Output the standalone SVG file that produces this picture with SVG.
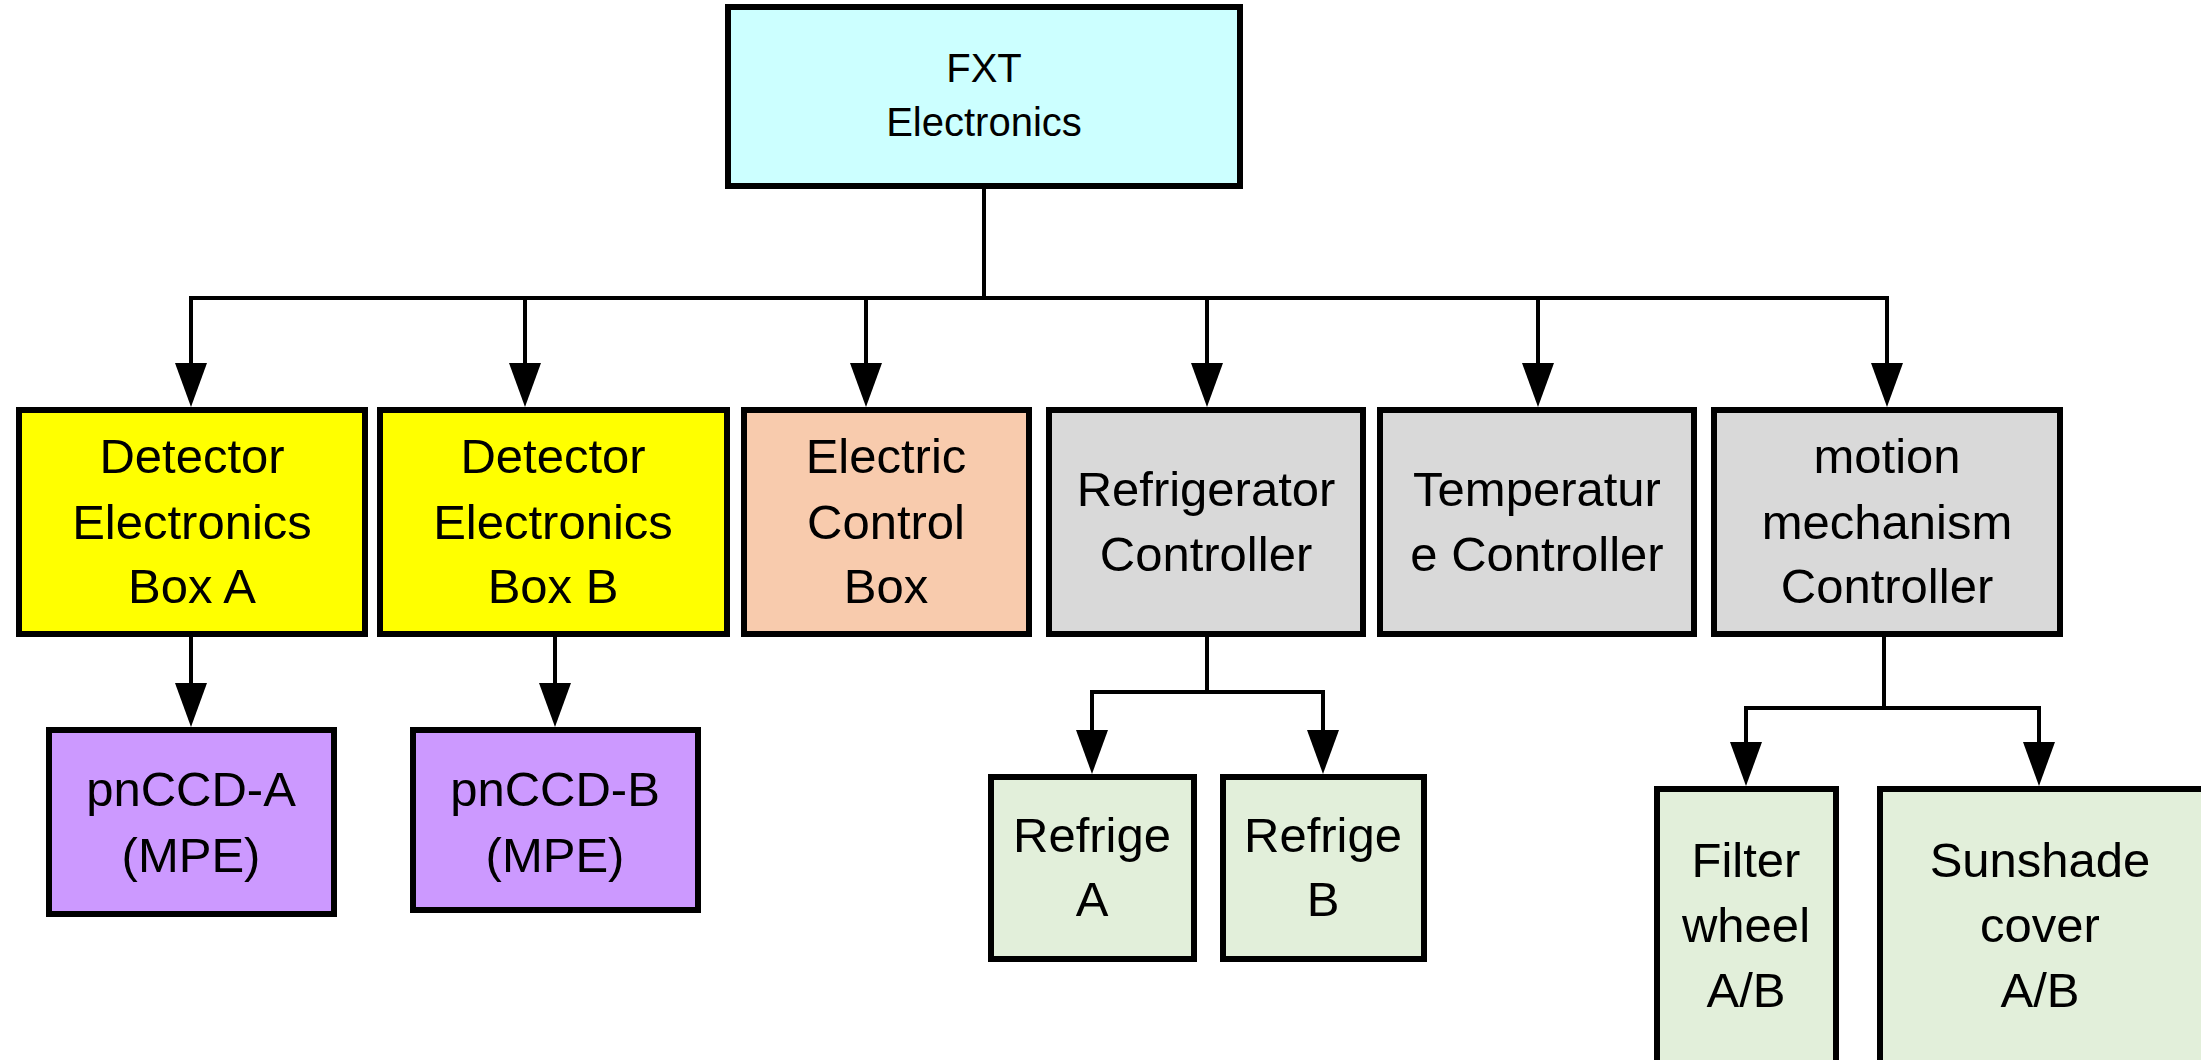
<svg xmlns="http://www.w3.org/2000/svg" width="2201" height="1060" viewBox="0 0 2201 1060">
<defs>
<style>
.box{stroke:#000;stroke-width:6}
.t{font-family:"Liberation Sans",Arial,sans-serif;font-size:49px;fill:#000;text-anchor:middle}
.ts{font-family:"Liberation Sans",Arial,sans-serif;font-size:40px;fill:#000;text-anchor:middle}
.c{fill:none;stroke:#000;stroke-width:4}
.a{marker-end:url(#arr)}
</style>
<marker id="arr" markerUnits="userSpaceOnUse" viewBox="0 0 44 32" markerWidth="44" markerHeight="32" refX="36" refY="16" orient="auto">
<path d="M0,0 L44,16 L0,32 z" fill="#000"/>
</marker>
</defs>
<rect width="2201" height="1060" fill="#fff"/>
<g id="connectors">
<path class="c" d="M984,189 V298"/>
<path class="c a" d="M984,298 H191 V399"/>
<path class="c a" d="M984,298 H1887 V399"/>
<path class="c a" d="M525,298 V399"/>
<path class="c a" d="M866,298 V399"/>
<path class="c a" d="M1207,298 V399"/>
<path class="c a" d="M1538,298 V399"/>
<path class="c a" d="M191,637 V719"/>
<path class="c a" d="M555,637 V719"/>
<path class="c" d="M1207,637 V692"/>
<path class="c a" d="M1207,692 H1092 V766"/>
<path class="c a" d="M1207,692 H1323 V766"/>
<path class="c" d="M1884,637 V708"/>
<path class="c a" d="M1884,708 H1746 V778"/>
<path class="c a" d="M1884,708 H2039 V778"/>
</g>
<g id="fxt">
<rect class="box" x="728" y="7" width="512" height="179" fill="#CCFFFF"/>
<text class="ts" x="984" y="82">FXT</text>
<text class="ts" x="984" y="136">Electronics</text>
</g>
<g id="deboxA">
<rect class="box" x="19" y="410" width="346" height="224" fill="#FFFF00"/>
<text class="t" x="192" y="473">Detector</text>
<text class="t" x="192" y="539">Electronics</text>
<text class="t" x="192" y="603">Box A</text>
</g>
<g id="deboxB">
<rect class="box" x="380" y="410" width="347" height="224" fill="#FFFF00"/>
<text class="t" x="553" y="473">Detector</text>
<text class="t" x="553" y="539">Electronics</text>
<text class="t" x="553" y="603">Box B</text>
</g>
<g id="ecb">
<rect class="box" x="744" y="410" width="285" height="224" fill="#F8CBAD"/>
<text class="t" x="886" y="473">Electric</text>
<text class="t" x="886" y="539">Control</text>
<text class="t" x="886" y="603">Box</text>
</g>
<g id="refctrl">
<rect class="box" x="1049" y="410" width="314" height="224" fill="#D9D9D9"/>
<text class="t" x="1206" y="506">Refrigerator</text>
<text class="t" x="1206" y="571">Controller</text>
</g>
<g id="tempctrl">
<rect class="box" x="1380" y="410" width="314" height="224" fill="#D9D9D9"/>
<text class="t" x="1537" y="506">Temperatur</text>
<text class="t" x="1537" y="571">e Controller</text>
</g>
<g id="motionctrl">
<rect class="box" x="1714" y="410" width="346" height="224" fill="#D9D9D9"/>
<text class="t" x="1887" y="473">motion</text>
<text class="t" x="1887" y="539">mechanism</text>
<text class="t" x="1887" y="603">Controller</text>
</g>
<g id="pnccdA">
<rect class="box" x="49" y="730" width="285" height="184" fill="#CC99FF"/>
<text class="t" x="191" y="806">pnCCD-A</text>
<text class="t" x="191" y="872">(MPE)</text>
</g>
<g id="pnccdB">
<rect class="box" x="413" y="730" width="285" height="180" fill="#CC99FF"/>
<text class="t" x="555" y="806">pnCCD-B</text>
<text class="t" x="555" y="872">(MPE)</text>
</g>
<g id="refA">
<rect class="box" x="991" y="777" width="203" height="182" fill="#E2EFDA"/>
<text class="t" x="1092" y="852">Refrige</text>
<text class="t" x="1092" y="916">A</text>
</g>
<g id="refB">
<rect class="box" x="1223" y="777" width="201" height="182" fill="#E2EFDA"/>
<text class="t" x="1323" y="852">Refrige</text>
<text class="t" x="1323" y="916">B</text>
</g>
<g id="filter">
<rect class="box" x="1657" y="789" width="179" height="290" fill="#E2EFDA"/>
<text class="t" x="1746" y="877">Filter</text>
<text class="t" x="1746" y="942">wheel</text>
<text class="t" x="1746" y="1007">A/B</text>
</g>
<g id="sunshade">
<rect class="box" x="1880" y="789" width="340" height="290" fill="#E2EFDA"/>
<text class="t" x="2040" y="877">Sunshade</text>
<text class="t" x="2040" y="942">cover</text>
<text class="t" x="2040" y="1007">A/B</text>
</g>
</svg>
